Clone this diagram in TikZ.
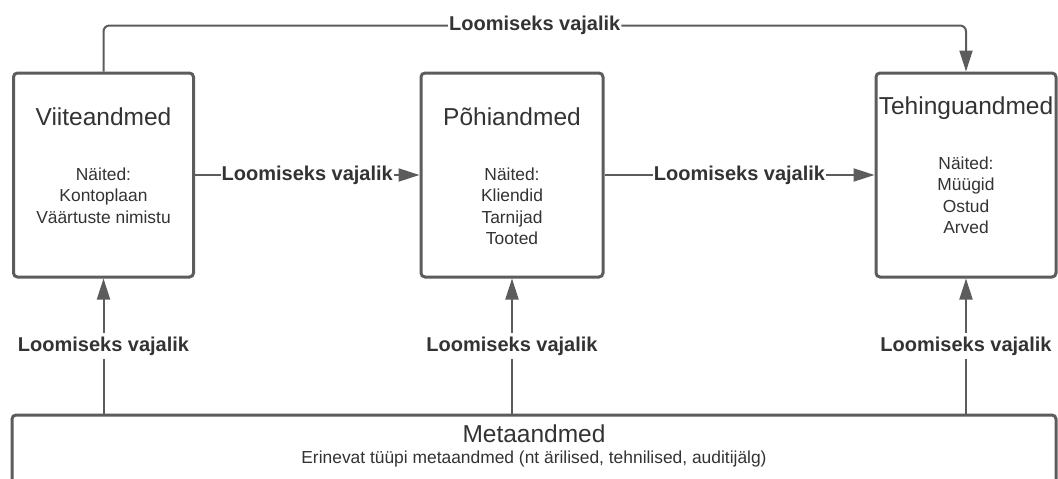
\documentclass[tikz,border=0pt]{standalone}
\usepackage{fontspec}
\setmainfont{Liberation Sans}
\usetikzlibrary{arrows.meta,calc}
\definecolor{linegray}{HTML}{5C5C5C}
\definecolor{textgray}{HTML}{333333}
\begin{document}
\begin{tikzpicture}[x=1pt,y=-1pt,
  box/.style={draw=linegray, line width=3pt, rounded corners=4pt,
    minimum width=180pt, minimum height=204pt, inner sep=0pt, fill=white},
  title/.style={text=textgray, font=\fontsize{24.5}{28}\selectfont,
    anchor=base, inner sep=0pt},
  body/.style={text=textgray, font=\fontsize{17.4}{21.5}\selectfont,
    align=center, anchor=north, inner sep=0pt},
  conn/.style={draw=linegray, line width=2pt,
    -{Triangle[length=21pt,width=13pt]}},
  lbl/.style={text=textgray, font=\bfseries\fontsize{20}{24}\selectfont,
    fill=white, inner xsep=1pt, inner ysep=4pt},
]
\useasboundingbox (0,0) rectangle (1058,479);
\clip (0,0) rectangle (1058,479);

% data boxes
\node[box] (V) at (103.5,175) {};
\node[box, minimum width=182pt] (P) at (512,175) {};
\node[box] (T) at (966,175) {};
\node[box, minimum width=1044pt, minimum height=140pt] (M) at (534,485) {};

% box texts
\node[title] (Vt) at (103.5,125) {Viiteandmed};
\node[title] (Pt) at (512,125) {Põhiandmed};
\node[title] (Tt) at (966,114) {Tehinguandmed};
\node[title] (Mt) at (534,442) {Metaandmed};

\node[body] (Vb) at (103.5,167.3) {Näited:\\Kontoplaan\\Väärtuste nimistu};
\node[body] (Pb) at (512,167.3) {Näited:\\Kliendid\\Tarnijad\\Tooted};
\node[body] (Tb) at (966,156.3) {Näited:\\Müügid\\Ostud\\Arved};
\node[body, anchor=base] (Mb) at (534,463)
  {Erinevat tüüpi metaandmed (nt ärilised, tehnilised, auditijälg)};

% dependencies
\coordinate (top) at (0,25.5);
\draw[conn, rounded corners=6pt] (V.north) -- (V.north |- top)
  -- node[lbl] {Loomiseks vajalik} (T.north |- top) -- (T.north);
\draw[conn] (V.east) -- node[lbl] {Loomiseks vajalik} (P.west);
\draw[conn] (P.east) -- node[lbl] {Loomiseks vajalik} (T.west);
\draw[conn] (M.north -| V.south) -- node[lbl] {Loomiseks vajalik} (V.south);
\draw[conn] (M.north -| P.south) -- node[lbl] {Loomiseks vajalik} (P.south);
\draw[conn] (M.north -| T.south) -- node[lbl] {Loomiseks vajalik} (T.south);
\end{tikzpicture}
\end{document}
